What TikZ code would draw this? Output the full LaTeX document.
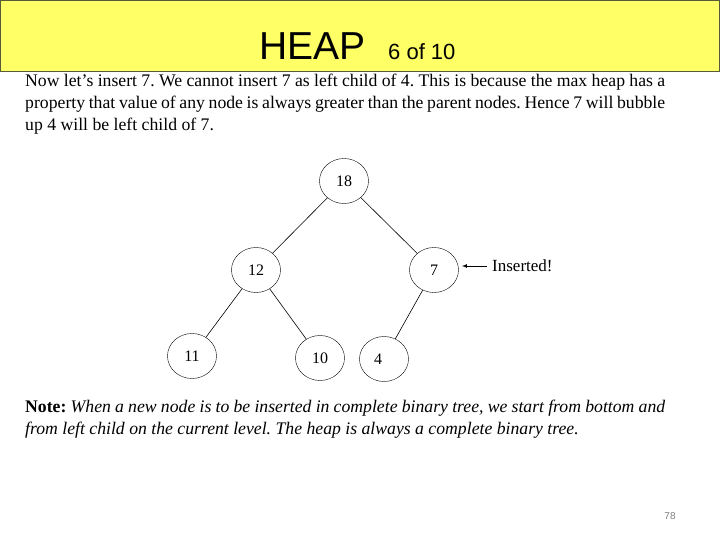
\documentclass[tikz,border=0pt]{standalone}
\usepackage{fontspec}
\setmainfont{Liberation Serif}
\newfontfamily\hd{Liberation Sans}
\usetikzlibrary{shapes.geometric}
\begin{document}
\frenchspacing
\begin{tikzpicture}[x=1pt,y=-1pt,
  hn/.style={draw,ellipse,minimum width=49pt,minimum height=45pt,inner sep=0pt,font=\fontsize{16}{16}\selectfont},
  edge/.style={draw,line width=0.6pt},
  para/.style={anchor=north west,text width=640pt,align=justify,inner sep=0pt,font=\fontsize{17.7}{22}\selectfont}]
\useasboundingbox (0,0) rectangle (720,540);
\fill[white] (0,0) rectangle (720,540);
\draw[fill={rgb,255:red,255;green,255;blue,102},draw={rgb,255:red,90;green,90;blue,60},line width=1pt] (0.5,0.5) rectangle (719.5,72);
\node[anchor=base west,inner sep=0pt,font=\hd\fontsize{39}{39}\selectfont] (title) at (259,60) {HEAP};
\node[anchor=base west,inner sep=0pt,font=\hd\fontsize{22}{22}\selectfont] (sub) at (388,60) {6 of 10};
\node[para] (p1) at (25,74) {Now let’s insert 7. We cannot insert 7 as left child of 4. This is because the max heap has a property that value of any node is always greater than the parent nodes. Hence 7 will bubble up 4 will be left child of 7.};
\node[hn] (n18) at (344,181) {18};
\node[hn] (n12) at (256,270) {12};
\node[hn] (n7) at (434,270) {7};
\node[hn] (n11) at (192,356) {11};
\node[hn] (n10) at (320,358) {10};
\node[hn] (n4) at (384,359) {\hspace{-12pt}4};
\draw[edge] (n18) -- (n12);
\draw[edge] (n18) -- (n7);
\draw[edge] (n12) -- (n11);
\draw[edge] (n12) -- (n10);
\draw[edge] (n7) -- (n4);
\node[anchor=west,inner sep=0pt,font=\fontsize{17}{17}\selectfont] (ins) at (492,266) {Inserted!};
\draw[-latex,line width=0.7pt] (ins.west)++(-5,0) coordinate (a) -- (462,266);
\node[para] (p2) at (25,400) {\textbf{Note:} \textit{When a new node is to be inserted in complete binary tree, we start from bottom and from left child on the current level. The heap is always a complete binary tree.}};
\node[anchor=base,inner sep=0pt,font=\hd\fontsize{10}{10}\selectfont,text=gray] (pg) at (670,519) {78};
\end{tikzpicture}
\end{document}
